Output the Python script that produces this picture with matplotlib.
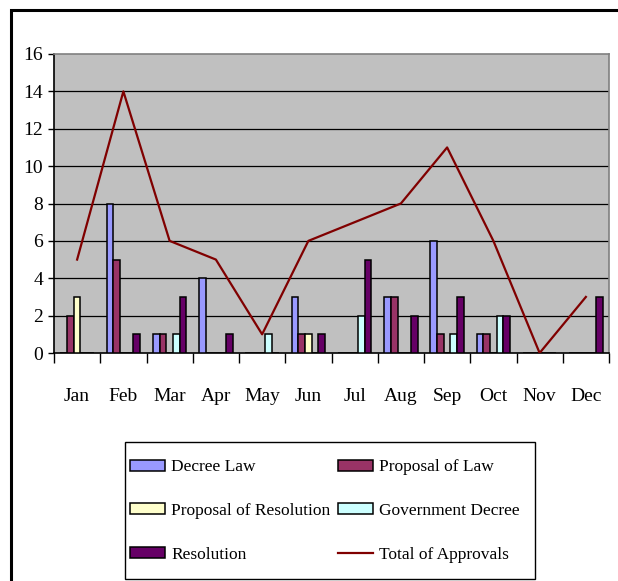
import matplotlib
matplotlib.use("Agg")
import matplotlib.pyplot as plt
from matplotlib.patches import Rectangle, Patch
from matplotlib.lines import Line2D
import numpy as np

months = ["Jan", "Feb", "Mar", "Apr", "May", "Jun", "Jul", "Aug", "Sep", "Oct", "Nov", "Dec"]
decree_law = [0, 8, 1, 4, 0, 3, 0, 3, 6, 1, 0, 0]
proposal_law = [2, 5, 1, 0, 0, 1, 0, 3, 1, 1, 0, 0]
proposal_res = [3, 0, 0, 0, 0, 1, 0, 0, 0, 0, 0, 0]
gov_decree = [0, 0, 1, 0, 1, 0, 2, 0, 1, 2, 0, 0]
resolution = [0, 1, 3, 1, 0, 1, 5, 2, 3, 2, 0, 3]
total = [5, 14, 6, 5, 1, 6, 7, 8, 11, 6, 0, 3]
yticks = [0, 2, 4, 6, 8, 10, 12, 14, 16]

series = [
    ("Decree Law", decree_law, "#9999FF"),
    ("Proposal of Law", proposal_law, "#993366"),
    ("Proposal of Resolution", proposal_res, "#FFFFCC"),
    ("Government Decree", gov_decree, "#CCFFFF"),
    ("Resolution", resolution, "#660066"),
]

plt.rcParams['font.family'] = ['Liberation Serif', 'DejaVu Serif']

fig = plt.figure(figsize=(6.18, 5.81), dpi=100)
fig.patch.set_facecolor("white")
ax = fig.add_axes([54/618, 1-353/581, (609-54)/618, (353-54)/581])
ax.set_facecolor("#C0C0C0")

x = np.arange(len(months))
w = 0.145
for i, (name, vals, col) in enumerate(series):
    ax.bar(x + (i - 2) * w, vals, width=w, color=col, edgecolor="black", linewidth=1.1, zorder=3)

ax.plot(x, total, color="#800000", linewidth=1.6, zorder=4)

ax.set_xlim(-0.5, len(months) - 0.5)
ax.set_ylim(0, 16)
ax.set_yticks(yticks)
ax.set_yticklabels([str(v) for v in yticks])
for v in yticks[1:-1]:
    ax.axhline(v, color="#000000", linewidth=0.9, zorder=1)

ax.set_xticks(np.arange(len(months) + 1) - 0.5)
ax.set_xticklabels([])
ax.set_xticks(x, minor=True)
ax.set_xticklabels(months, minor=True)
ax.tick_params(axis="x", which="major", length=7, width=1, direction="out", color="black")
ax.tick_params(axis="x", which="minor", length=0, pad=25, labelsize=14)
ax.tick_params(axis="y", length=4, width=1, direction="out", pad=4, labelsize=14)

ax.spines["left"].set_color("black")
ax.spines["bottom"].set_color("black")
ax.spines["top"].set_color("#808080")
ax.spines["right"].set_color("#808080")
for s in ax.spines.values():
    s.set_linewidth(1.2)

# outer chart border
fig.patches.append(Rectangle((11/618, -0.1), 1.2, 1 - 10/581 + 0.1, transform=fig.transFigure,
                             fill=False, edgecolor="black", linewidth=2.2))

# legend box
fig.patches.append(Rectangle((125/618, 1 - 579/581), 410/618, 137/581, transform=fig.transFigure,
                             fill=False, edgecolor="black", linewidth=1.0))

handles = {name: Patch(facecolor=col, edgecolor="black", linewidth=1.1) for name, _, col in series}
handles["Total of Approvals"] = Line2D([0], [0], color="#800000", linewidth=1.6)
order = ["Decree Law", "Proposal of Resolution", "Resolution",
         "Proposal of Law", "Government Decree", "Total of Approvals"]
leg = fig.legend([handles[k] for k in order], order, ncol=2, loc="center",
                 bbox_to_anchor=(325/618, 1 - 511/581), fontsize=12.5,
                 frameon=False,
                 handlelength=2.0, handleheight=0.6, handletextpad=0.35,
                 labelspacing=1.6, columnspacing=0.45, borderpad=0.0, borderaxespad=0)

fig.savefig("out.png", dpi=100, facecolor="white")
